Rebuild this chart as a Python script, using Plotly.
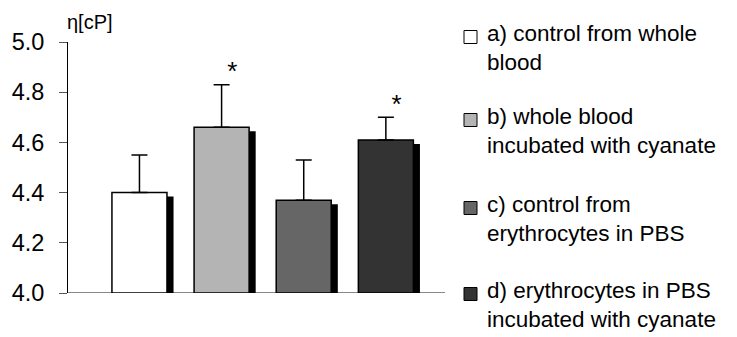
import plotly.graph_objects as go

categories = ["a", "b", "c", "d"]
legend_labels = [
    "a) control from whole<br>blood",
    "b) whole blood<br>incubated with cyanate",
    "c) control from<br>erythrocytes in PBS",
    "d) erythrocytes in PBS<br>incubated with cyanate",
]
viscosity = [4.40, 4.66, 4.37, 4.61]
sd_upper = [0.15, 0.17, 0.16, 0.09]
significant = [False, True, False, True]
tick_vals = [4.0, 4.2, 4.4, 4.6, 4.8, 5.0]
tick_text = ["4.0", "4.2", "4.4", "4.6", "4.8", "5.0"]

colors = ["#ffffff", "#b4b4b4", "#666666", "#333333"]

W, H = 737, 337
L, R, T, B = 68, 445, 42, 293  # plot area in pixels
FONT = "Liberation Sans, Arial, sans-serif"

xpos = list(range(len(categories)))
bar_w = 0.67
shadow_dx = 0.08
shadow_dy = 0.016

fig = go.Figure()

# shadows
fig.add_trace(go.Bar(
    x=xpos, y=[v - 4.0 - shadow_dy for v in viscosity], base=4.0,
    width=bar_w, offset=-bar_w / 2 + shadow_dx,
    marker=dict(color="#000000", line=dict(width=0)),
    showlegend=False, hoverinfo="skip",
))
# main bars
fig.add_trace(go.Bar(
    x=xpos, y=[v - 4.0 for v in viscosity], base=4.0,
    width=bar_w, offset=-bar_w / 2,
    marker=dict(color=colors, line=dict(color="#000000", width=1.5)),
    error_y=dict(type="data", array=sd_upper, arrayminus=[0] * 4, symmetric=False,
                 color="#000000", thickness=1.5, width=8),
    showlegend=False,
))
# significance stars
star_x = [x + 0.13 for x, s in zip(xpos, significant) if s]
star_y = [v + e + 0.045 for v, e, s in zip(viscosity, sd_upper, significant) if s]
fig.add_trace(go.Scatter(
    x=star_x, y=star_y, mode="text", text=["*"] * len(star_x),
    textfont=dict(size=26, color="#000000", family=FONT),
    textposition="middle center",
    showlegend=False, hoverinfo="skip",
))


def px_x(p):
    return (p - L) / (R - L)


def px_y(p):
    return (B - p) / (B - T)


shapes = []
annotations = []
rows_y = [48, 131, 219, 305]  # centre of each two-line entry (pixels)
for lab, col, cy in zip(legend_labels, colors, rows_y):
    sy = cy - 11
    shapes.append(dict(
        type="rect", xref="paper", yref="paper",
        x0=px_x(464), x1=px_x(477), y0=px_y(sy + 6.5), y1=px_y(sy - 6.5),
        fillcolor=col, line=dict(color="#000000", width=1),
    ))
    annotations.append(dict(
        xref="paper", yref="paper", x=px_x(485), y=px_y(cy),
        xanchor="left", yanchor="middle", align="left", showarrow=False,
        text=lab, font=dict(size=22.5, color="#000000", family=FONT),
    ))

annotations.append(dict(
    xref="paper", yref="paper", x=px_x(65), y=px_y(22),
    xanchor="left", yanchor="middle", showarrow=False,
    text="η[cP]", font=dict(size=20, color="#000000", family=FONT),
))

fig.update_layout(
    width=W, height=H,
    margin=dict(l=L, r=W - R, t=T, b=H - B, pad=0),
    paper_bgcolor="#ffffff", plot_bgcolor="#ffffff",
    barmode="overlay",
    shapes=shapes, annotations=annotations,
    xaxis=dict(range=[-0.87, 3.72], showticklabels=False, ticks="",
               showgrid=False, zeroline=False, showline=False, fixedrange=True),
    yaxis=dict(range=[4.0, 5.0], tickvals=tick_vals, ticktext=tick_text,
               ticks="outside", ticklen=8, tickcolor="#555555", tickwidth=1,
               ticklabelstandoff=10,
               showline=True, linecolor="#000000", linewidth=1,
               showgrid=False, zeroline=False,
               tickfont=dict(size=23.5, color="#000000", family=FONT)),
    showlegend=False,
)
# baseline at 4.0 across plot area
fig.add_shape(type="line", xref="paper", yref="y", x0=0, x1=1, y0=4.0, y1=4.0,
              line=dict(color="#888888", width=2), layer="below")

fig.write_html(
    "out.html",
    config={"displayModeBar": False},
    post_script="document.body.style.margin='0';document.body.style.padding='0';",
)
